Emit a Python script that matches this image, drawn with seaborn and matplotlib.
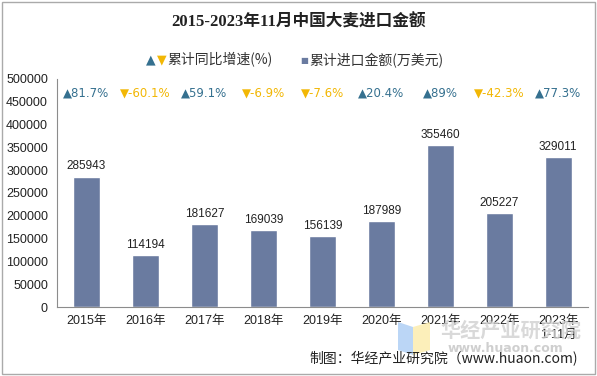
import matplotlib
matplotlib.use('Agg')
import matplotlib.pyplot as plt
import seaborn as sns
import pandas as pd
from matplotlib.patches import Polygon

years = ['2015年', '2016年', '2017年', '2018年', '2019年', '2020年', '2021年', '2022年', '2023年\n1-11月']
amount = [285943, 114194, 181627, 169039, 156139, 187989, 355460, 205227, 329011]
growth = [81.7, -60.1, 59.1, -6.9, -7.6, 20.4, 89, -42.3, 77.3]
growth_labels = ['81.7%', '-60.1%', '59.1%', '-6.9%', '-7.6%', '20.4%', '89%', '-42.3%', '77.3%']

df = pd.DataFrame({'year': years, 'amount': amount})

sns.set_style('white')
plt.rcParams['font.family'] = ['Liberation Sans', 'Noto Sans CJK SC', 'DejaVu Sans']

bar_color = '#6A7BA0'
up_color = '#35708F'
down_color = '#F2B705'

fig = plt.figure(figsize=(5.97, 3.76), dpi=100)

# faint watermark logo + text behind the chart
W, H = 597.0, 376.0
def fpt(x, y):
    return (x / W, 1 - y / H)
fig.patches.append(Polygon([fpt(398, 322), fpt(413, 327), fpt(413, 355), fpt(398, 350)],
                           closed=True, transform=fig.transFigure, facecolor='#AFCFF5',
                           edgecolor='none', alpha=0.85, zorder=0))
fig.patches.append(Polygon([fpt(413, 327), fpt(430, 322), fpt(430, 350), fpt(413, 355)],
                           closed=True, transform=fig.transFigure, facecolor='#FCEDAE',
                           edgecolor='none', alpha=0.85, zorder=0))
fig.text(0.737, 0.122, '华经产业研究院', ha='left', va='center', fontsize=14.5, color='#D0D0D0',
         fontweight='bold', family=['Noto Sans CJK SC'], alpha=0.8, zorder=0)
fig.text(0.749, 0.072, 'www.huaon.com', ha='left', va='center', fontsize=9,
         color='#CFCFCF', fontweight='bold', family=['DejaVu Sans'], zorder=0)

ax = fig.add_axes([0.0955, 0.1835, 0.889, 0.6065])
ax.patch.set_alpha(0)
sns.barplot(data=df, x='year', y='amount', color=bar_color, width=0.46, saturation=1, ax=ax)

ax.set_ylim(0, 500000)
ax.set_yticks(range(0, 500001, 50000))
ax.set_xlim(-0.5, len(years) - 0.5)
ax.set_xlabel('')
ax.set_ylabel('')
ax.tick_params(axis='both', labelsize=9, colors='#222222', length=3, direction='out')
ax.tick_params(axis='x', pad=3)
for s in ['top', 'right']:
    ax.spines[s].set_visible(False)
for s in ['left', 'bottom']:
    ax.spines[s].set_color('#8C8C8C')
    ax.spines[s].set_linewidth(0.8)
ax.tick_params(axis='both', color='#8C8C8C')

for i, v in enumerate(amount):
    ax.text(i, v + 9000, str(v), ha='center', va='bottom', fontsize=8.5, color='#222222')

for i, (g, lab) in enumerate(zip(growth, growth_labels)):
    if g >= 0:
        ax.text(i, 470000, '▲' + lab, ha='center', va='center', fontsize=8.5, color=up_color,
                family=['DejaVu Sans'])
    else:
        ax.text(i, 470000, '▼' + lab, ha='center', va='center', fontsize=8.5, color=down_color,
                family=['DejaVu Sans'])

fig.text(0.5, 0.94, '2015-2023年11月中国大麦进口金额', ha='center', va='center', fontsize=12,
         fontweight='bold', family=['Liberation Serif', 'Noto Sans CJK SC'], color='#222222')

# legend
fig.text(0.244, 0.84, '▲', ha='left', va='center', fontsize=9, color=up_color, family=['DejaVu Sans'])
fig.text(0.263, 0.84, '▼', ha='left', va='center', fontsize=9, color=down_color, family=['DejaVu Sans'])
fig.text(0.281, 0.84, '累计同比增速(%)', ha='left', va='center', fontsize=10, color='#333333',
         family=['Noto Sans CJK SC'])
fig.text(0.503, 0.84, '■', ha='left', va='center', fontsize=6, color=bar_color, family=['DejaVu Sans'])
fig.text(0.518, 0.84, '累计进口金额(万美元)', ha='left', va='center', fontsize=10, color='#333333',
         family=['Noto Sans CJK SC'])

fig.text(0.968, 0.045, '制图：华经产业研究院（www.huaon.com)', ha='right', va='center', fontsize=10,
         color='#222222', family=['Noto Sans CJK SC', 'DejaVu Sans'])

fig.patches.append(plt.Rectangle((0.004, 0.006), 0.992, 0.988, transform=fig.transFigure,
                                 fill=False, edgecolor='#AAAAAA', linewidth=1))

fig.savefig('out.png', dpi=100)
